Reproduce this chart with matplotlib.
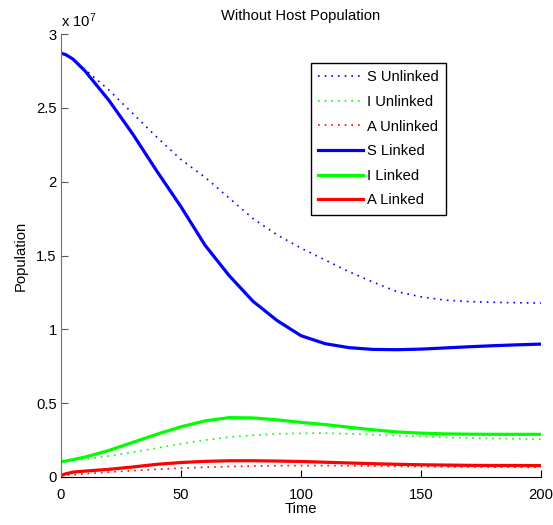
import numpy as np
import matplotlib
import matplotlib.pyplot as plt
from matplotlib import font_manager
from matplotlib.ticker import FuncFormatter

# pick a narrow Helvetica-like face if it is there
names = {f.name for f in font_manager.fontManager.ttflist}
if 'Liberation Sans Narrow' in names:
    FONT, FS = 'Liberation Sans Narrow', 12.6
else:
    FONT, FS = 'Liberation Sans', 10.6
plt.rcParams['font.family'] = [FONT, 'DejaVu Sans']
plt.rcParams['mathtext.fontset'] = 'custom'
plt.rcParams['mathtext.rm'] = FONT

# ---- data (population in units of 1e7) ----
time = [0, 2, 5, 10, 20, 30, 40, 50, 60, 70, 80, 90, 100,
        110, 120, 130, 140, 150, 160, 170, 180, 190, 200]

s_unlinked = [2.87, 2.86, 2.83, 2.76, 2.62, 2.46, 2.30, 2.15, 2.03, 1.89, 1.75, 1.64, 1.55,
              1.47, 1.39, 1.32, 1.255, 1.22, 1.198, 1.188, 1.183, 1.18, 1.178]
i_unlinked = [0.104, 0.107, 0.112, 0.12, 0.142, 0.168, 0.196, 0.225, 0.25, 0.27, 0.283, 0.292, 0.296,
              0.297, 0.293, 0.287, 0.28, 0.274, 0.268, 0.264, 0.261, 0.259, 0.257]
a_unlinked = [0.01, 0.012, 0.015, 0.022, 0.033, 0.043, 0.052, 0.06, 0.066, 0.071, 0.074, 0.076, 0.077,
              0.077, 0.076, 0.074, 0.072, 0.07, 0.069, 0.068, 0.067, 0.066, 0.066]
s_linked = [2.87, 2.86, 2.83, 2.75, 2.55, 2.32, 2.07, 1.83, 1.57, 1.365, 1.19, 1.06, 0.957,
            0.903, 0.876, 0.864, 0.862, 0.866, 0.874, 0.882, 0.889, 0.895, 0.90]
i_linked = [0.104, 0.108, 0.118, 0.135, 0.18, 0.235, 0.29, 0.34, 0.38, 0.402, 0.40, 0.387, 0.37,
            0.355, 0.337, 0.32, 0.305, 0.297, 0.292, 0.29, 0.289, 0.289, 0.289]
a_linked = [0.01, 0.022, 0.033, 0.04, 0.052, 0.068, 0.086, 0.098, 0.106, 0.11, 0.11, 0.108, 0.105,
            0.1, 0.095, 0.09, 0.086, 0.083, 0.081, 0.079, 0.078, 0.078, 0.077]

SCALE = 1e7
t = np.array(time)

fig = plt.figure(figsize=(5.53, 5.25), dpi=100)
ax = fig.add_axes([61 / 553, 48 / 525, 480 / 553, 443 / 525])

dot = (0, (1, 3))
ax.plot(t, np.array(s_unlinked) * SCALE, color='#0000ff', ls=dot, lw=1.2, label='S Unlinked')
ax.plot(t, np.array(i_unlinked) * SCALE, color='#00ff00', ls=dot, lw=1.2, label='I Unlinked')
ax.plot(t, np.array(a_unlinked) * SCALE, color='#ff0000', ls=dot, lw=1.2, label='A Unlinked')
ax.plot(t, np.array(s_linked) * SCALE, color='#0000ff', lw=2.3, label='S Linked')
ax.plot(t, np.array(i_linked) * SCALE, color='#00ff00', lw=2.3, label='I Linked')
ax.plot(t, np.array(a_linked) * SCALE, color='#ff0000', lw=2.3, label='A Linked')

ax.set_xlim(0, 200)
ax.set_ylim(0, 3e7)
ax.set_xticks([0, 50, 100, 150, 200])
ax.set_yticks(np.arange(0, 3.01, 0.5) * SCALE)
ax.yaxis.set_major_formatter(FuncFormatter(lambda v, p: f'{v / SCALE:g}'))

ax.spines['top'].set_visible(False)
ax.spines['right'].set_visible(False)
ax.spines['left'].set_color('0.45')
ax.spines['bottom'].set_color('black')
ax.tick_params(direction='in', length=5, width=0.8, labelsize=FS, colors='black', pad=3)
ax.tick_params(axis='x', pad=8)
ax.tick_params(axis='y', color='0.35')

ax.set_title('Without Host Population', fontsize=FS, pad=10)
ax.set_xlabel('Time', fontsize=FS, labelpad=0)
ax.set_ylabel('Population', fontsize=FS, labelpad=6)
ax.text(0, 1.01, r'x $\mathregular{10^{7}}$', transform=ax.transAxes, fontsize=FS,
        ha='left', va='bottom')

leg = ax.legend(loc='upper left', bbox_to_anchor=(0.521, 0.9345), borderaxespad=0,
                fontsize=FS, frameon=True, fancybox=False, framealpha=1,
                edgecolor='black', handlelength=3.0, handletextpad=0.3,
                labelspacing=0.72, borderpad=0.5)
leg.get_frame().set_linewidth(1.0)

fig.savefig('out.png', dpi=100)
